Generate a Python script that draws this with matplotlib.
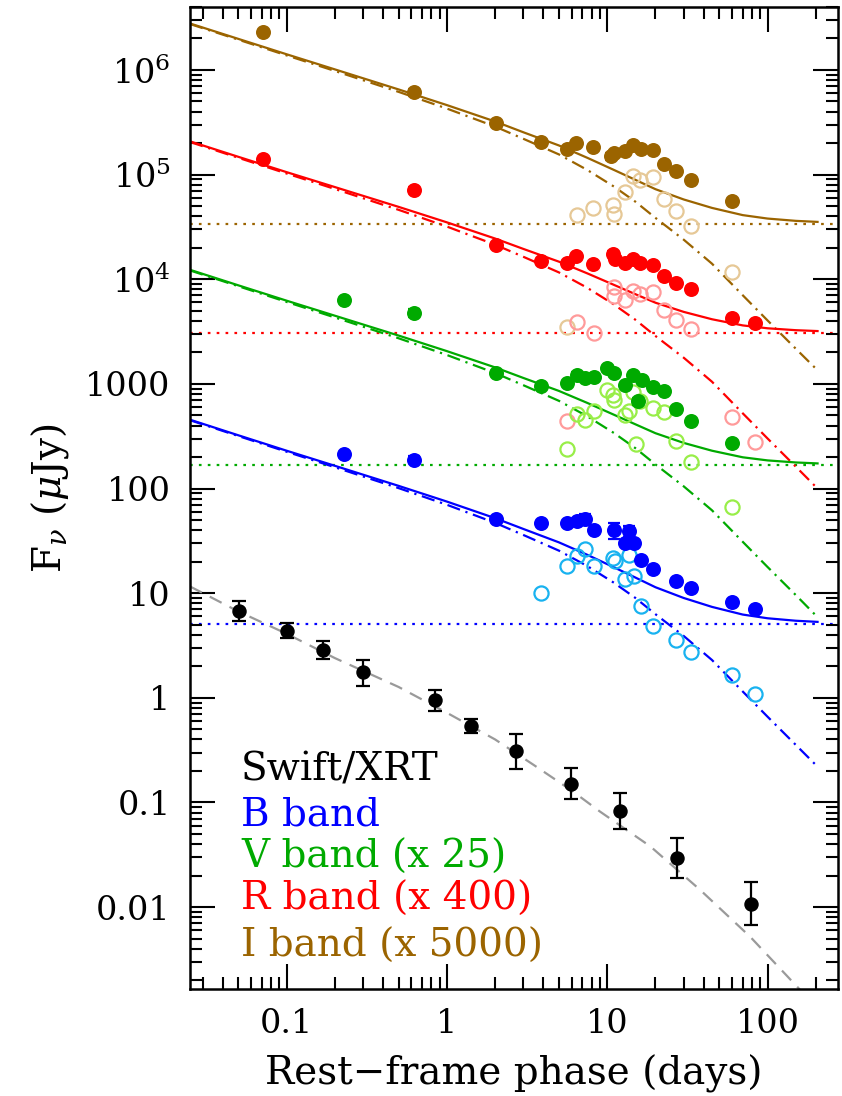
import numpy as np
import matplotlib
matplotlib.use('Agg')
import matplotlib.pyplot as plt
from matplotlib.ticker import LogLocator, NullFormatter, FuncFormatter

plt.rcParams['font.family'] = ['DejaVu Serif']
plt.rcParams['mathtext.fontset'] = 'dejavuserif'

# ---------------- data ----------------
# Swift/XRT
xrt_t = [0.0506, 0.1003, 0.170, 0.301, 0.838, 1.406, 2.71, 5.96, 12.1, 27.1, 78.3]
xrt_f = [6.83, 4.37, 2.88, 1.75, 0.957, 0.540, 0.311, 0.151, 0.083, 0.0295, 0.0107]
xrt_lo = [5.48, 3.70, 2.34, 1.30, 0.756, 0.46, 0.21, 0.108, 0.0557, 0.0191, 0.0067]
xrt_hi = [8.5, 5.18, 3.51, 2.31, 1.19, 0.63, 0.45, 0.212, 0.123, 0.0458, 0.0172]
xrt_model_t = [0.025, 0.05, 0.1, 0.2, 0.5, 1, 2, 3.5, 6, 9, 18.6, 38, 78, 156, 190]
xrt_model_f = [11.6, 6.7, 4.1, 2.4, 1.27, 0.72, 0.40, 0.227, 0.13, 0.082, 0.038, 0.0146, 0.0052, 0.00168, 0.00120]

# I band (x 5000)
I_t = [0.0718, 0.622, 2.03, 3.85, 5.6, 6.4, 8.2, 10.5, 11.0, 12.9, 14.5, 16.3, 19.3, 22.5, 27.0, 33.3, 60.2]
I_f = [2.29e6, 6.12e5, 3.12e5, 2.04e5, 1.76e5, 2.01e5, 1.84e5, 1.50e5, 1.62e5, 1.70e5, 1.94e5, 1.75e5, 1.71e5, 1.27e5, 1.08e5, 8.8e4, 5.55e4]
I_err = [0, 0.07, 0, 0, 0, 0, 0, 0.08, 0, 0, 0, 0, 0, 0, 0, 0, 0]
I_open_t = [5.65, 6.46, 8.2, 10.9, 11.1, 13.0, 14.5, 16.1, 19.3, 22.7, 26.8, 33.3, 60.2]
I_open_f = [3.5e3, 4.08e4, 4.8e4, 5.16e4, 4.21e4, 6.78e4, 9.8e4, 8.83e4, 9.4e4, 5.86e4, 4.53e4, 3.25e4, 1.17e4]
I_host = 3.4e4

# R band (x 400)
R_t = [0.0718, 0.622, 2.03, 3.85, 5.6, 6.4, 8.2, 10.9, 11.2, 12.9, 14.5, 16.1, 19.3, 22.6, 27.0, 33.3, 60.2, 84]
R_f = [1.42e5, 7.19e4, 2.14e4, 1.48e4, 1.42e4, 1.67e4, 1.39e4, 1.74e4, 1.55e4, 1.43e4, 1.56e4, 1.43e4, 1.38e4, 1.07e4, 9.2e3, 8.1e3, 4.3e3, 3.82e3]
R_err = [0, 0.07, 0, 0, 0, 0, 0, 0.06, 0, 0, 0, 0, 0, 0, 0, 0, 0, 0]
R_open_t = [5.6, 6.5, 8.3, 10.96, 11.1, 12.9, 14.5, 16.1, 19.3, 22.7, 27, 33.3, 60.2, 84]
R_open_f = [438, 3.87e3, 3.07e3, 8.37e3, 6.87e3, 6.39e3, 7.66e3, 7.28e3, 7.5e3, 5.05e3, 4.05e3, 3.37e3, 478, 279]
R_host = 3.1e3

# V band (x 25)
V_t = [0.229, 0.628, 2.03, 3.85, 5.6, 6.46, 7.3, 8.3, 9.96, 10.96, 12.9, 14.5, 15.5, 16.5, 19.3, 22.5, 26.8, 33.3, 60.2]
V_f = [6.38e3, 4.77e3, 1.27e3, 946, 1.03e3, 1.22e3, 1.14e3, 1.17e3, 1.42e3, 1.27e3, 982, 1.22e3, 680, 1.1e3, 934, 848, 575, 438, 272]
V_err = [0, 0.08, 0, 0, 0, 0.07, 0.07, 0.07, 0, 0, 0, 0, 0.07, 0, 0, 0, 0, 0, 0]
V_open_t = [5.65, 6.46, 7.3, 8.3, 9.96, 10.9, 11.1, 12.9, 13.6, 14.5, 15.2, 16.1, 19.3, 22.6, 26.9, 33.3, 60.2]
V_open_f = [239, 519, 448, 546, 880, 788, 706, 510, 546, 830, 268, 691, 589, 534, 287, 178, 66]
V_host = 168

# B band
B_t = [0.229, 0.628, 2.03, 3.85, 5.6, 6.46, 7.3, 8.3, 10.96, 12.9, 13.6, 14.6, 16.3, 19.3, 27, 33.3, 60.2, 84]
B_f = [214, 189, 51.4, 46.8, 46.8, 48.5, 51, 39.8, 39.8, 30.5, 38.9, 30.1, 20.9, 17.0, 13.2, 11.3, 8.2, 7.1]
B_err = [0, 0.08, 0, 0, 0, 0, 0.12, 0, 0.18, 0, 0.12, 0, 0, 0, 0, 0, 0, 0]
B_open_t = [3.85, 5.65, 6.46, 7.3, 8.3, 10.9, 11.2, 12.9, 13.6, 14.6, 16.2, 19.3, 27, 33.3, 60.2, 84]
B_open_f = [10.0, 18.0, 22.8, 26.6, 18.0, 21.7, 20.5, 13.6, 23.3, 14.7, 7.58, 4.88, 3.55, 2.77, 1.66, 1.08]
B_host = 5.1

# afterglow model curves (dash-dot); solid = model + host
model_t = [0.025, 0.05, 0.1, 0.2, 0.5, 1, 2, 3, 5, 7.5, 11, 15, 20, 30, 45, 70, 100, 150, 205]
B_model = [450, 318, 225, 160, 101, 70, 47, 36, 25.5, 18.2, 12.6, 9.0, 6.3, 3.9, 2.3, 1.15, 0.66, 0.355, 0.22]
V_model = [12150, 8590, 6080, 4320, 2730, 1890, 1270, 972, 689, 491, 340, 243, 170, 105, 62, 31, 17.8, 9.6, 5.9]
R_model = [205000, 145000, 102600, 73000, 46100, 31900, 21400, 16400, 11630, 8300, 5750, 4100, 2870, 1780, 1050, 524, 301, 162, 100]
I_model = [2.75e6, 1.95e6, 1.38e6, 9.8e5, 6.18e5, 4.28e5, 2.88e5, 2.2e5, 1.56e5, 1.11e5, 7.7e4, 5.51e4, 3.86e4, 2.39e4, 1.41e4, 7.04e3, 4.04e3, 2.17e3, 1.35e3]

legend_labels = ['Swift/XRT', 'B band', 'V band (x 25)', 'R band (x 400)', 'I band (x 5000)']

# ---------------- styling ----------------
c_I, c_Io = '#9B6400', '#E6C896'
c_R, c_Ro = '#FF0000', '#FF9A9A'
c_V, c_Vo = '#00AA00', '#98EE48'
c_B, c_Bo = '#0000FF', '#18B2F0'
c_X, c_Xm = '#000000', '#9A9A9A'

fig = plt.figure(figsize=(8.42, 10.96), dpi=100)
ax = fig.add_axes([190 / 842, 1 - 989 / 1096, 648 / 842, 982 / 1096])
ax.set_xscale('log')
ax.set_yscale('log')
ax.set_xlim(0.025, 275)
ax.set_ylim(0.00165, 4.0e6)

lw = 1.6
dot = (1.2, 2.8)
dashdot = (6.0, 2.6, 1.0, 2.6)

bands = [
    (I_t, I_f, I_err, I_open_t, I_open_f, I_host, I_model, c_I, c_Io),
    (R_t, R_f, R_err, R_open_t, R_open_f, R_host, R_model, c_R, c_Ro),
    (V_t, V_f, V_err, V_open_t, V_open_f, V_host, V_model, c_V, c_Vo),
    (B_t, B_f, B_err, B_open_t, B_open_f, B_host, B_model, c_B, c_Bo),
]

for (t, f, e, ot, of, host, model, c, co) in bands:
    ax.axhline(host, color=c, lw=lw, dashes=dot, zorder=1)
    mt = np.array(model_t)
    mf = np.array(model)
    ax.plot(mt, mf, color=c, lw=lw, dashes=dashdot, zorder=2)
    ax.plot(mt, mf + host, color=c, lw=lw, zorder=2)

ax.plot(xrt_model_t, xrt_model_f, color=c_Xm, lw=lw, dashes=(6.0, 4.0), zorder=2)

for (t, f, e, ot, of, host, model, c, co) in bands:
    ax.plot(ot, of, 'o', ms=10.2, mfc='none', mec=co, mew=1.6, zorder=3)
for (t, f, e, ot, of, host, model, c, co) in bands:
    t = np.array(t); f = np.array(f); e = np.array(e)
    m = e > 0
    ax.errorbar(t[m], f[m], yerr=f[m] * e[m], fmt='none', ecolor=c, elinewidth=1.6,
                capsize=4.5, capthick=1.6, zorder=4)
    ax.plot(t, f, 'o', ms=10.8, color=c, mec=c, mew=0, zorder=4)

xf = np.array(xrt_f)
ax.errorbar(xrt_t, xrt_f, yerr=[xf - np.array(xrt_lo), np.array(xrt_hi) - xf], fmt='o',
            ms=9.4, color=c_X, ecolor=c_X, elinewidth=1.6, capsize=4.8, capthick=1.6, zorder=5)

# ---------------- axes / ticks ----------------
for s in ax.spines.values():
    s.set_linewidth(1.8)

ax.xaxis.set_major_locator(LogLocator(base=10, numticks=20))
ax.xaxis.set_minor_locator(LogLocator(base=10, subs=np.arange(2, 10), numticks=20))
ax.yaxis.set_major_locator(LogLocator(base=10, numticks=30))
ax.yaxis.set_minor_locator(LogLocator(base=10, subs=np.arange(2, 10), numticks=30))


def fmt(v, pos):
    e = int(round(np.log10(v)))
    if e >= 4:
        return r'10$^{%d}$' % e
    if e >= 0:
        return '%d' % round(v)
    return ('%.' + str(-e) + 'f') % v


ax.xaxis.set_major_formatter(FuncFormatter(fmt))
ax.yaxis.set_major_formatter(FuncFormatter(fmt))
ax.xaxis.set_minor_formatter(NullFormatter())
ax.yaxis.set_minor_formatter(NullFormatter())

ax.tick_params(which='both', direction='in', top=True, right=True, width=1.5, labelsize=24)
ax.tick_params(which='major', length=18, pad=14)
ax.tick_params(which='minor', length=8.6)

ax.set_xlabel('Rest\u2212frame phase (days)', fontsize=28, labelpad=10)
ax.set_ylabel(r'F$_\nu$ ($\mu$Jy)', fontsize=28, labelpad=10)

leg_colors = [c_X, c_B, c_V, c_R, c_I]
leg_y = [0.2128, 0.167, 0.1232, 0.0804, 0.0326]
for lab, col, yy in zip(legend_labels, leg_colors, leg_y):
    ax.text(0.0787, yy, lab, color=col, fontsize=28, transform=ax.transAxes,
            ha='left', va='baseline')

fig.savefig('out.png', dpi=100)
